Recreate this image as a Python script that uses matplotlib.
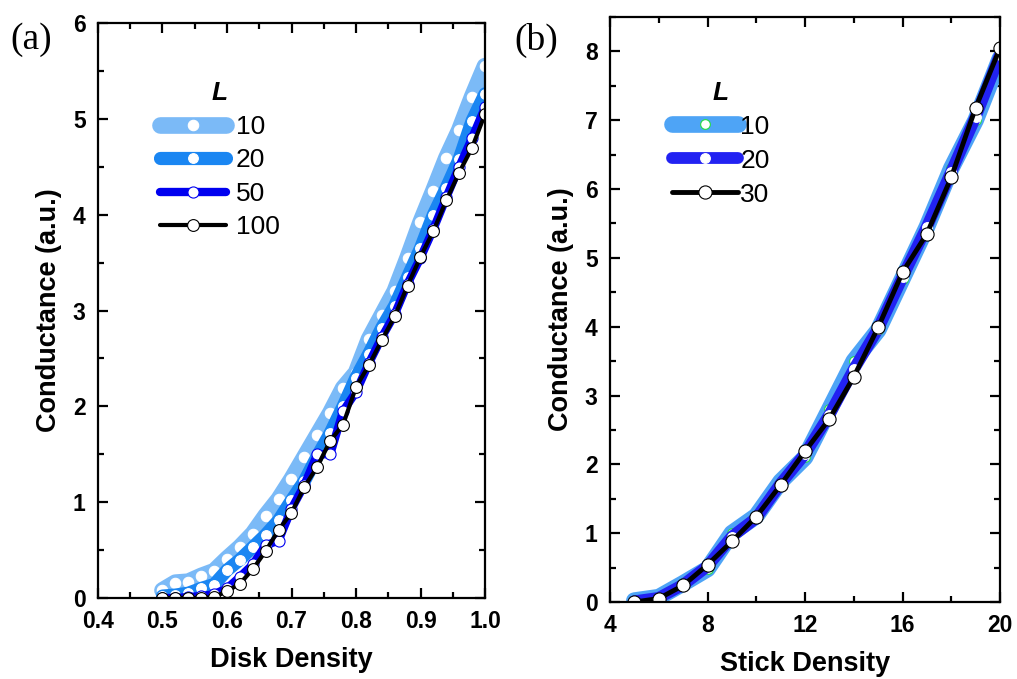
import matplotlib
matplotlib.use("Agg")
import matplotlib.pyplot as plt
from matplotlib.ticker import MultipleLocator

plt.rcParams['font.family'] = ['Liberation Sans', 'DejaVu Sans']

# ---------------- data: panel (a) ----------------
disk_density = [0.50, 0.52, 0.54, 0.56, 0.58, 0.60, 0.62, 0.64, 0.66, 0.68, 0.70, 0.72, 0.74,
                0.76, 0.78, 0.80, 0.82, 0.84, 0.86, 0.88, 0.90, 0.92, 0.94, 0.96, 0.98, 1.00]
a_L10 = [0.08, 0.16, 0.17, 0.23, 0.28, 0.41, 0.53, 0.67, 0.86, 1.03, 1.24, 1.47, 1.70,
         1.93, 2.19, 2.35, 2.70, 2.95, 3.20, 3.55, 3.92, 4.25, 4.59, 4.88, 5.23, 5.55]
a_L20 = [0.02, 0.03, 0.05, 0.10, 0.14, 0.29, 0.40, 0.53, 0.66, 0.81, 1.02, 1.22, 1.48,
         1.72, 2.00, 2.30, 2.55, 2.82, 3.05, 3.35, 3.65, 4.00, 4.28, 4.58, 4.98, 5.26]
a_L50 = [0.00, 0.00, 0.01, 0.02, 0.04, 0.10, 0.22, 0.35, 0.55, 0.60, 0.93, 1.18, 1.50,
         1.50, 1.95, 2.15, 2.45, 2.72, 2.96, 3.28, 3.55, 3.85, 4.18, 4.50, 4.80, 5.12]
a_L100 = [0.00, 0.00, 0.00, 0.00, 0.01, 0.07, 0.15, 0.30, 0.49, 0.71, 0.89, 1.16, 1.37,
          1.64, 1.81, 2.20, 2.43, 2.69, 2.94, 3.26, 3.56, 3.83, 4.15, 4.44, 4.70, 5.05]
a_labels = ['10', '20', '50', '100']

# ---------------- data: panel (b) ----------------
stick_density = [5, 6, 7, 8, 9, 10, 11, 12, 13, 14, 15, 16, 17, 18, 19, 20]
b_L10 = [0.02, 0.07, 0.27, 0.48, 1.00, 1.25, 1.75, 2.10, 2.80, 3.50, 3.95, 4.70, 5.45, 6.30, 7.00, 7.90]
b_L20 = [0.01, 0.06, 0.25, 0.52, 0.95, 1.22, 1.72, 2.15, 2.72, 3.38, 3.97, 4.72, 5.45, 6.25, 7.05, 7.95]
b_L30 = [0.00, 0.05, 0.24, 0.54, 0.88, 1.24, 1.70, 2.19, 2.66, 3.27, 3.99, 4.79, 5.35, 6.17, 7.18, 8.05]
b_labels = ['10', '20', '30']

W, H = 1017, 679
fig = plt.figure(figsize=(W / 100, H / 100), dpi=100)

axa = fig.add_axes([98 / W, 1 - 598 / H, (485 - 98) / W, (598 - 23) / H])
axb = fig.add_axes([610 / W, 1 - 602 / H, (1000 - 610) / W, (602 - 17) / H])

def style(ax):
    for s in ax.spines.values():
        s.set_linewidth(1.6)
    ax.tick_params(which='both', direction='in', top=True, right=True, width=1.6)
    ax.tick_params(which='major', length=7, labelsize=16.5, pad=9)
    ax.tick_params(which='minor', length=4)
    for lab in ax.get_xticklabels() + ax.get_yticklabels():
        lab.set_fontweight('bold')

# panel (a)
sa = [
    (a_L10, '#7bbaf7', 12.0, 'white', 'white', 7.5),
    (a_L20, '#1a86f2', 9.5, 'white', 'white', 7.0),
    (a_L50, '#0000f0', 6.0, 'white', '#0000f0', 8.0),
    (a_L100, 'black', 3.0, 'white', 'black', 8.5),
]
for (ys, c, lw, mfc, mec, ms), lab in zip(sa, a_labels):
    axa.plot(disk_density, ys, '-', color=c, lw=lw, marker='o', ms=ms, mfc=mfc, mec=mec,
             mew=0.8, solid_capstyle='round', solid_joinstyle='round', label=lab)
axa.set_xlim(0.4, 1.0)
axa.set_ylim(0, 6)
axa.xaxis.set_major_locator(MultipleLocator(0.1))
axa.xaxis.set_minor_locator(MultipleLocator(0.05))
axa.yaxis.set_major_locator(MultipleLocator(1))
axa.yaxis.set_minor_locator(MultipleLocator(0.5))
axa.xaxis.set_major_formatter(matplotlib.ticker.FormatStrFormatter('%.1f'))
style(axa)
axa.set_xlabel('Disk Density', fontsize=19.5, fontweight='bold', labelpad=10)
axa.set_ylabel('Conductance (a.u.)', fontsize=19.5, fontweight='bold', labelpad=8)
axa.legend(loc='upper left', bbox_to_anchor=(0.10, 0.94), frameon=False, fontsize=19,
           handlelength=2.5, labelspacing=0.36, handletextpad=0.35, numpoints=1,
           title='L', title_fontproperties={'weight': 'bold', 'style': 'italic', 'size': 19})

# panel (b)
sb = [
    (b_L10, '#4ea4f6', 12.0, 'white', '#22dd44', 7.0),
    (b_L20, '#2222f2', 8.5, 'white', 'white', 7.0),
    (b_L30, 'black', 3.5, 'white', 'black', 9.5),
]
for (ys, c, lw, mfc, mec, ms), lab in zip(sb, b_labels):
    axb.plot(stick_density, ys, '-', color=c, lw=lw, marker='o', ms=ms, mfc=mfc, mec=mec,
             mew=0.8, solid_capstyle='round', solid_joinstyle='round', label=lab)
axb.set_xlim(4, 20)
axb.set_ylim(0, 8.5)
axb.xaxis.set_major_locator(MultipleLocator(4))
axb.xaxis.set_minor_locator(MultipleLocator(2))
axb.yaxis.set_major_locator(MultipleLocator(1))
axb.yaxis.set_minor_locator(MultipleLocator(0.5))
style(axb)
axb.set_xlabel('Stick Density', fontsize=19.5, fontweight='bold', labelpad=10)
axb.set_ylabel('Conductance (a.u.)', fontsize=19.5, fontweight='bold', labelpad=8)
axb.legend(loc='upper left', bbox_to_anchor=(0.097, 0.932), frameon=False, fontsize=19,
           handlelength=2.5, labelspacing=0.38, handletextpad=0.1, numpoints=1,
           title='L', title_fontproperties={'weight': 'bold', 'style': 'italic', 'size': 19})

fig.text(10 / W, 1 - 40 / H, '(a)', family='Liberation Serif', fontsize=27, va='center', ha='left')
fig.text(514 / W, 1 - 40 / H, '(b)', family='Liberation Serif', fontsize=27, va='center', ha='left')

fig.savefig('out.png', dpi=100)
